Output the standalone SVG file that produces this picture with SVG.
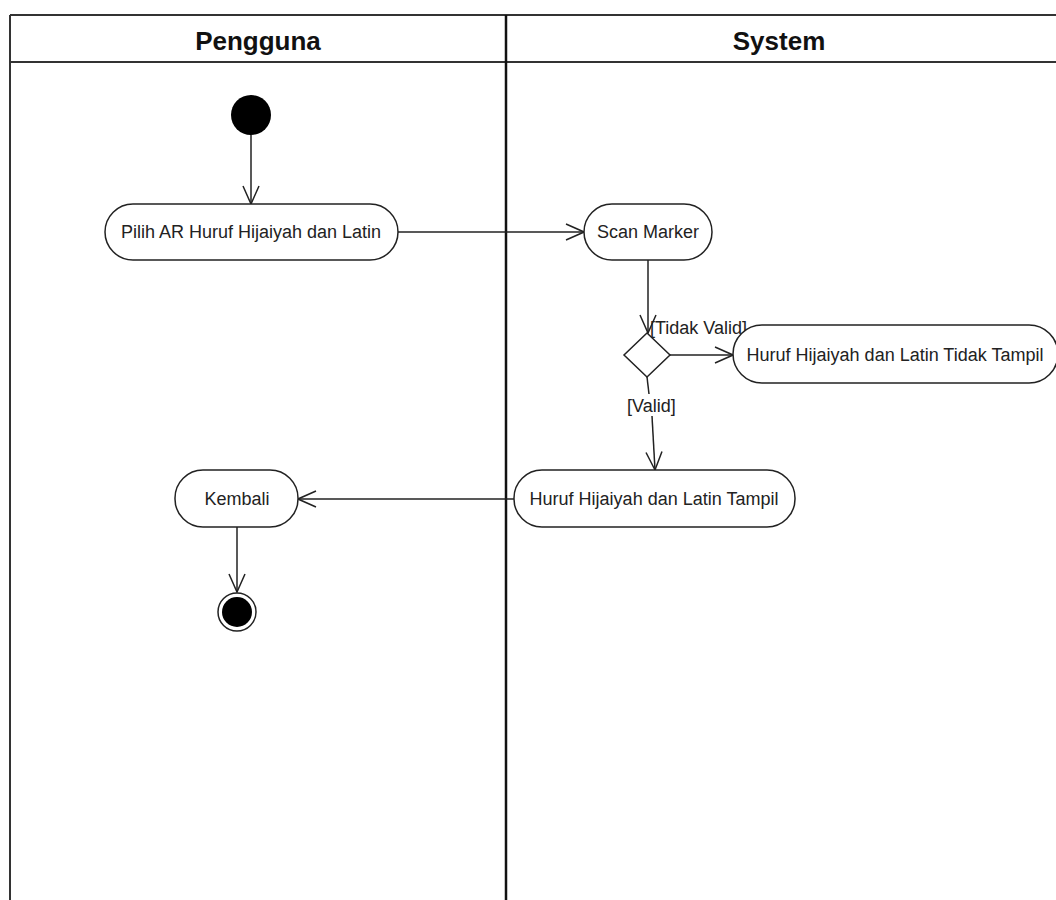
<svg xmlns="http://www.w3.org/2000/svg" width="1056" height="900" viewBox="0 0 1056 900">
  <style>
    .lane { fill: none; stroke: #333; stroke-width: 2; }
    .head { font-family: "Liberation Sans", Arial, sans-serif; font-size: 26px; font-weight: bold; fill: #111; text-anchor: middle; }
    .act { fill: #fff; stroke: #222; stroke-width: 1.5; }
    .lbl { font-family: "Liberation Sans", Arial, sans-serif; font-size: 18px; fill: #222; text-anchor: middle; }
    .guard { font-family: "Liberation Sans", Arial, sans-serif; font-size: 18px; fill: #222; }
    .flow { fill: none; stroke: #222; stroke-width: 1.5; marker-end: url(#open); }
  </style>
  <defs>
    <marker id="open" viewBox="0 0 20 20" refX="19" refY="10" markerWidth="20" markerHeight="20" markerUnits="userSpaceOnUse" orient="auto">
      <path d="M1,2 L19,10 L1,18" fill="none" stroke="#222" stroke-width="1.5"/>
    </marker>
  </defs>
  <rect width="1056" height="900" fill="#fff"/>

  <!-- swimlanes -->
  <g id="lanes">
    <line class="lane" x1="10" y1="15" x2="1056" y2="15"/>
    <line class="lane" x1="10" y1="62" x2="1056" y2="62"/>
    <line class="lane" x1="10" y1="15" x2="10" y2="900"/>
    <line x1="506" y1="15" x2="506" y2="900" stroke="#111" stroke-width="2.5"/>
    <text class="head" x="258" y="50">Pengguna</text>
    <text class="head" x="779" y="50">System</text>
  </g>

  <!-- connectors -->
  <g id="connectors">
    <line class="flow" x1="251" y1="135" x2="251" y2="204"/>
    <line class="flow" x1="398" y1="232" x2="584" y2="232"/>
    <line class="flow" x1="648" y1="260" x2="648" y2="333"/>
    <line class="flow" x1="670" y1="355" x2="733" y2="355"/>
    <line x1="647" y1="377" x2="649" y2="394" stroke="#222" stroke-width="1.5"/>
    <line class="flow" x1="652" y1="416" x2="655" y2="470"/>
    <line class="flow" x1="514" y1="499" x2="298" y2="499"/>
    <line class="flow" x1="237" y1="527" x2="237" y2="592"/>
    <text class="guard" x="650" y="334">[Tidak Valid]</text>
    <text class="guard" x="627" y="412">[Valid]</text>
  </g>

  <g id="start">
    <circle cx="251" cy="115" r="20" fill="#000"/>
  </g>

  <g id="pilih">
    <rect class="act" x="105" y="204" width="293" height="56" rx="28"/>
    <text class="lbl" x="251" y="238">Pilih AR Huruf Hijaiyah dan Latin</text>
  </g>

  <g id="scan">
    <rect class="act" x="584" y="204" width="128" height="56" rx="28"/>
    <text class="lbl" x="648" y="238">Scan Marker</text>
  </g>

  <g id="decision">
    <polygon points="647,333 670,355 647,377 624,355" fill="#fff" stroke="#222" stroke-width="1.5"/>
  </g>

  <g id="tidak-tampil">
    <rect class="act" x="733" y="325" width="325" height="58" rx="29"/>
    <text class="lbl" x="895" y="361">Huruf Hijaiyah dan Latin Tidak Tampil</text>
  </g>

  <g id="tampil">
    <rect class="act" x="514" y="470" width="281" height="57" rx="28"/>
    <text class="lbl" x="654" y="505">Huruf Hijaiyah dan Latin Tampil</text>
  </g>

  <g id="kembali">
    <rect class="act" x="175" y="470" width="123" height="57" rx="28"/>
    <text class="lbl" x="237" y="505">Kembali</text>
  </g>

  <g id="end">
    <circle cx="237" cy="612" r="19" fill="#fff" stroke="#222" stroke-width="1.5"/>
    <circle cx="237" cy="612" r="15" fill="#000"/>
  </g>
</svg>
